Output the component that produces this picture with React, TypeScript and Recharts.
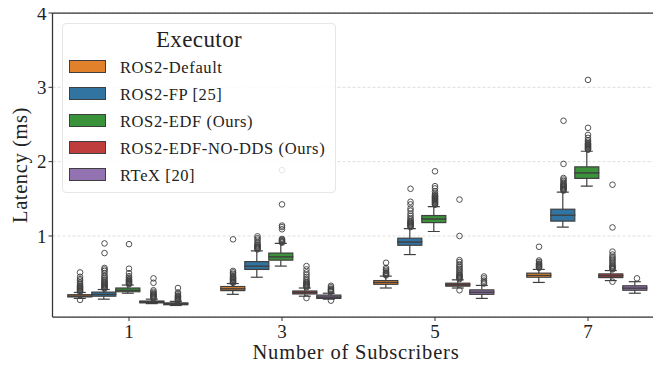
import React from 'react';
import {
  ComposedChart, Bar, Scatter, XAxis, YAxis, CartesianGrid, Legend, ReferenceLine,
} from 'recharts';

// ---------- data ----------
const categories = ['1', '3', '5', '7'];
const executors = ['ROS2-Default', 'ROS2-FP [25]', 'ROS2-EDF (Ours)', 'ROS2-EDF-NO-DDS (Ours)', 'RTeX [20]'];
const colors = ['#e1812c', '#3274a1', '#3a923a', '#c03d3e', '#9372b2'];
const yTicks = [1, 2, 3, 4];

// box stats per category: [lowWhisker, q1, median, q3, highWhisker]
const defaultBoxes = [
  [0.16, 0.18, 0.19, 0.21, 0.24],
  [0.215, 0.265, 0.29, 0.32, 0.36],
  [0.30, 0.35, 0.375, 0.40, 0.46],
  [0.375, 0.445, 0.47, 0.50, 0.55],
];
const fpBoxes = [
  [0.15, 0.19, 0.215, 0.245, 0.28],
  [0.445, 0.55, 0.595, 0.655, 0.80],
  [0.75, 0.875, 0.92, 0.97, 1.10],
  [1.12, 1.20, 1.28, 1.36, 1.59],
];
const edfBoxes = [
  [0.23, 0.25, 0.27, 0.30, 0.34],
  [0.595, 0.675, 0.72, 0.77, 0.90],
  [1.06, 1.18, 1.23, 1.275, 1.395],
  [1.67, 1.775, 1.85, 1.93, 2.14],
];
const noDdsBoxes = [
  [0.09, 0.10, 0.115, 0.125, 0.15],
  [0.19, 0.22, 0.24, 0.26, 0.30],
  [0.30, 0.325, 0.345, 0.365, 0.41],
  [0.40, 0.44, 0.465, 0.49, 0.535],
];
const rtexBoxes = [
  [0.065, 0.075, 0.09, 0.10, 0.12],
  [0.15, 0.16, 0.18, 0.205, 0.23],
  [0.16, 0.215, 0.245, 0.275, 0.335],
  [0.23, 0.27, 0.30, 0.33, 0.385],
];

// outliers per category
const defaultOutliers = [
  [0.14, 0.25, 0.26, 0.27, 0.28, 0.29, 0.30, 0.31, 0.32, 0.33, 0.35, 0.37, 0.40, 0.42, 0.45, 0.51],
  [0.37, 0.38, 0.39, 0.40, 0.41, 0.42, 0.43, 0.44, 0.45, 0.47, 0.49, 0.51, 0.53, 0.955],
  [0.47, 0.48, 0.49, 0.50, 0.51, 0.53, 0.55, 0.57, 0.64],
  [0.57, 0.58, 0.59, 0.60, 0.61, 0.62, 0.63, 0.65, 0.67, 0.855],
];
const fpOutliers = [
  [0.29, 0.30, 0.31, 0.32, 0.33, 0.34, 0.35, 0.36, 0.37, 0.38, 0.40, 0.41, 0.43, 0.45, 0.47, 0.50, 0.53, 0.55, 0.57, 0.77, 0.90],
  [0.82, 0.83, 0.84, 0.85, 0.86, 0.87, 0.88, 0.90, 0.92, 0.95, 0.97, 0.995],
  [1.12, 1.13, 1.14, 1.15, 1.16, 1.17, 1.18, 1.19, 1.20, 1.22, 1.24, 1.27, 1.30, 1.34, 1.37, 1.425, 1.46, 1.635],
  [1.61, 1.62, 1.63, 1.64, 1.65, 1.66, 1.67, 1.68, 1.69, 1.70, 1.72, 1.74, 1.76, 1.78, 1.97, 2.55],
];
const edfOutliers = [
  [0.35, 0.36, 0.37, 0.38, 0.39, 0.40, 0.41, 0.42, 0.44, 0.46, 0.50, 0.56, 0.89],
  [0.91, 0.92, 0.93, 0.94, 0.95, 0.96, 1.09, 1.12, 1.14, 1.425, 1.885],
  [1.42, 1.43, 1.44, 1.45, 1.46, 1.47, 1.48, 1.49, 1.50, 1.51, 1.52, 1.53, 1.54, 1.55, 1.57, 1.60, 1.64, 1.67, 1.87],
  [2.16, 2.17, 2.18, 2.19, 2.20, 2.21, 2.22, 2.23, 2.24, 2.25, 2.27, 2.29, 2.32, 2.36, 2.455, 3.10],
];
const noDdsOutliers = [
  [0.16, 0.17, 0.18, 0.19, 0.20, 0.21, 0.22, 0.23, 0.25, 0.27, 0.37, 0.43],
  [0.165, 0.31, 0.32, 0.33, 0.34, 0.35, 0.36, 0.37, 0.38, 0.40, 0.42, 0.45, 0.48, 0.51, 0.55, 0.595],
  [0.27, 0.42, 0.43, 0.44, 0.45, 0.46, 0.47, 0.48, 0.50, 0.52, 0.54, 0.56, 0.58, 0.60, 0.62, 0.65, 0.675, 1.0, 1.49],
  [0.385, 0.55, 0.56, 0.57, 0.58, 0.59, 0.60, 0.62, 0.64, 0.66, 0.68, 0.70, 0.72, 0.75, 0.79, 1.115, 1.69],
];
const rtexOutliers = [
  [0.13, 0.14, 0.15, 0.16, 0.17, 0.18, 0.19, 0.20, 0.22, 0.24, 0.30],
  [0.13, 0.25, 0.26, 0.27, 0.28, 0.29, 0.31, 0.33],
  [0.36, 0.38, 0.40, 0.43, 0.455],
  [0.43],
];

const allBoxes = [defaultBoxes, fpBoxes, edfBoxes, noDdsBoxes, rtexBoxes];
const allOutliers = [defaultOutliers, fpOutliers, edfOutliers, noDdsOutliers, rtexOutliers];

// ---------- derived tables ----------
const chartData = categories.map((name, i) => {
  const row: Record<string, any> = { name };
  allBoxes.forEach((boxes, k) => {
    const [lo, q1, med, q3, hi] = boxes[i];
    row[`base${k}`] = lo;
    row[`lw${k}`] = q1 - lo;
    row[`b1${k}`] = med - q1;
    row[`b2${k}`] = q3 - med;
    row[`uw${k}`] = hi - q3;
  });
  return row;
});

const SLOT = 0.16; // 0.8 / 5 of a category band
const outlierData = allOutliers.map((groups, k) =>
  groups.flatMap((vals, i) => vals.map((v) => ({ x: i + 0.5 + (k - 2) * SLOT, y: v })))
);

// ---------- styles ----------
const LINE = '#3f3f3f';
const FONT = '"Liberation Serif", "Times New Roman", serif';

const Empty = () => null;

const LowerWhisker = (p: any) => {
  const { x, y, width, height } = p;
  const cx = x + width / 2;
  const yb = y + height;
  return (
    <g>
      <line x1={cx} x2={cx} y1={y} y2={yb} stroke={LINE} strokeWidth={1.2} />
      <line x1={cx - width / 4} x2={cx + width / 4} y1={yb} y2={yb} stroke={LINE} strokeWidth={1.2} />
    </g>
  );
};
const UpperWhisker = (p: any) => {
  const { x, y, width, height } = p;
  const cx = x + width / 2;
  return (
    <g>
      <line x1={cx} x2={cx} y1={y} y2={y + height} stroke={LINE} strokeWidth={1.2} />
      <line x1={cx - width / 4} x2={cx + width / 4} y1={y} y2={y} stroke={LINE} strokeWidth={1.2} />
    </g>
  );
};
const makeBox = (fill: string) => (p: any) => {
  const { x, y, width, height } = p;
  return <rect x={x} y={y} width={width} height={Math.max(height, 0)} fill={fill} stroke={LINE} strokeWidth={1.2} />;
};
const Flier = (p: any) => (
  <circle cx={p.cx} cy={p.cy} r={2.8} fill="none" stroke={LINE} strokeWidth={0.9} />
);

const LegendBox = () => (
  <div
    style={{
      position: 'relative', width: 274, height: 170, boxSizing: 'border-box',
      border: '1px solid #e6e6e6', borderRadius: 4, background: 'rgba(255,255,255,0.85)',
      fontFamily: FONT, color: '#222',
    }}
  >
    <div style={{ position: 'absolute', left: 0, right: 0, top: 4, textAlign: 'center', fontSize: 23, lineHeight: '23px', letterSpacing: 0.4 }}>
      Executor
    </div>
    {executors.map((name, k) => (
      <div key={name} style={{ position: 'absolute', left: 6, top: 36 + k * 27.1, height: 13, display: 'flex', alignItems: 'center' }}>
        <div style={{ width: 37, height: 13, boxSizing: 'border-box', background: colors[k], border: `1px solid ${LINE}` }} />
        <div style={{ marginLeft: 14, fontSize: 16.5, lineHeight: '13px', letterSpacing: 0.6, whiteSpace: 'nowrap', transform: 'translateY(1px)' }}>
          {name}
        </div>
      </div>
    ))}
  </div>
);

const YLabel = (props: any) => {
  const vb = props.viewBox || { x: 0, y: 13, width: 52, height: 304 };
  const cy = vb.y + vb.height / 2;
  const x = 27;
  return (
    <text x={x} y={cy} transform={`rotate(-90, ${x}, ${cy})`} textAnchor="middle" fontFamily={FONT} fontSize={20.5} letterSpacing={0.6} fill="#222">
      Latency (ms)
    </text>
  );
};
const XLabel = () => (
  <text x={356} y={359} textAnchor="middle" fontFamily={FONT} fontSize={20.5} letterSpacing={0.8} fill="#222">
    Number of Subscribers
  </text>
);

export default function App() {
  return (
    <div style={{ margin: -8, width: 661, height: 368, overflow: 'hidden', position: 'relative', background: '#fff' }}>
      <ComposedChart
        width={670}
        height={368}
        data={chartData}
        margin={{ top: 13, right: 5.5, bottom: 0, left: 0.5 }}
        barCategoryGap="10%"
        barGap={0}
      >
        <CartesianGrid horizontal vertical={false} stroke="#d6d6d6" strokeDasharray="3 2" strokeWidth={0.8} />
        <XAxis
          dataKey="name"
          type="category"
          interval={0}
          height={51}
          tickSize={4}
          tickMargin={4}
          axisLine={{ stroke: '#333', strokeWidth: 1.25 }}
          tickLine={{ stroke: '#333', strokeWidth: 1 }}
          tick={{ fontFamily: FONT, fontSize: 19, fill: '#222' }}
          label={<XLabel />}
        />
        <XAxis xAxisId="n" type="number" dataKey="x" domain={[0, 4]} hide allowDataOverflow height={0} />
        <YAxis
          type="number"
          domain={[-0.09, 4]}
          ticks={yTicks}
          allowDataOverflow
          width={52}
          tickSize={4}
          tickMargin={2}
          axisLine={{ stroke: '#333', strokeWidth: 1.25 }}
          tickLine={{ stroke: '#333', strokeWidth: 1 }}
          tick={{ fontFamily: FONT, fontSize: 19, fill: '#222' }}
          label={<YLabel />}
        />
        <ReferenceLine y={4} stroke="#333" strokeWidth={1.25} ifOverflow="visible" />
        {executors.map((name, k) => [
          <Bar key={`base${k}`} dataKey={`base${k}`} stackId={`s${k}`} shape={<Empty />} isAnimationActive={false} legendType="none" />,
          <Bar key={`lw${k}`} dataKey={`lw${k}`} stackId={`s${k}`} shape={LowerWhisker} isAnimationActive={false} legendType="none" />,
          <Bar key={`b1${k}`} dataKey={`b1${k}`} stackId={`s${k}`} shape={makeBox(colors[k])} isAnimationActive={false} legendType="none" />,
          <Bar key={`b2${k}`} dataKey={`b2${k}`} stackId={`s${k}`} shape={makeBox(colors[k])} isAnimationActive={false} legendType="none" />,
          <Bar key={`uw${k}`} dataKey={`uw${k}`} stackId={`s${k}`} shape={UpperWhisker} isAnimationActive={false} legendType="none" />,
        ])}
        {executors.map((name, k) => (
          <Scatter key={`out${k}`} name={name} data={outlierData[k]} xAxisId="n" dataKey="y" shape={Flier} isAnimationActive={false} legendType="none" />
        ))}
        <Legend
          layout="vertical"
          align="center"
          verticalAlign="middle"
          content={<LegendBox />}
          wrapperStyle={{ position: 'absolute', left: 62, top: 23, width: 274, height: 170 }}
        />
      </ComposedChart>
    </div>
  );
}
